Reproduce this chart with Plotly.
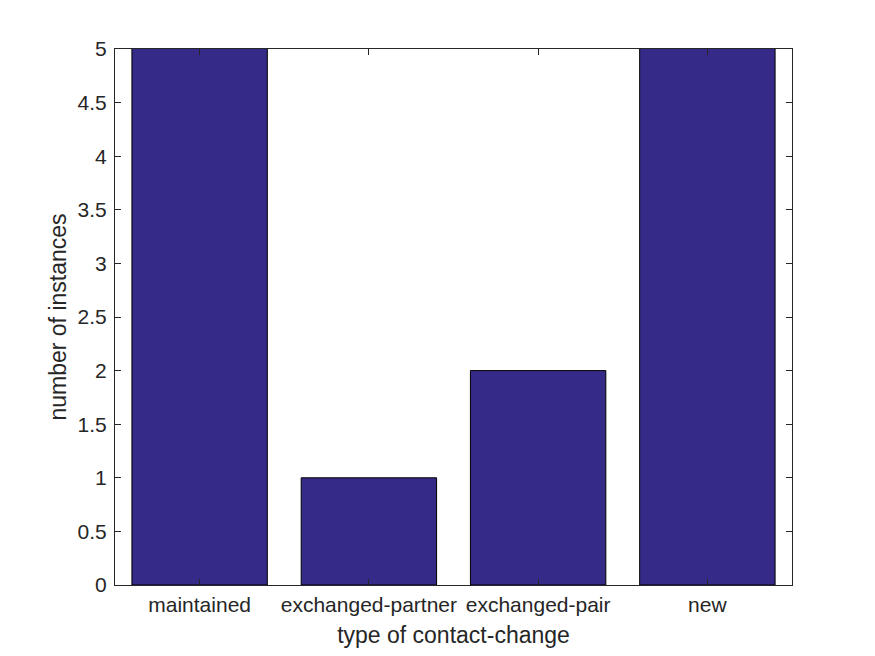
import plotly.graph_objects as go

categories = ["maintained", "exchanged-partner", "exchanged-pair", "new"]
counts = [6, 1, 2, 6]
y_ticks = [0, 0.5, 1, 1.5, 2, 2.5, 3, 3.5, 4, 4.5, 5]
y_tick_labels = ["0", "0.5", "1", "1.5", "2", "2.5", "3", "3.5", "4", "4.5", "5"]

axis_color = "#262626"
font_family = "Liberation Sans, Arial, sans-serif"

fig = go.Figure(
    go.Bar(
        x=categories,
        y=counts,
        marker=dict(color="#352A87", line=dict(color="#000000", width=1)),
        width=0.8,
    )
)

fig.update_layout(
    width=859,
    height=640,
    margin=dict(l=107, r=75, t=41, b=63),
    paper_bgcolor="white",
    plot_bgcolor="white",
    showlegend=False,
    font=dict(family=font_family, size=21, color=axis_color),
)

fig.update_xaxes(
    range=[-0.5, 3.5],
    automargin=False,
    showgrid=False,
    showline=True,
    linecolor=axis_color,
    linewidth=1,
    mirror="ticks",
    ticks="inside",
    ticklen=6,
    tickcolor=axis_color,
    tickfont=dict(size=21, color=axis_color),
    ticklabelstandoff=1,
    title=dict(text="type of contact-change", font=dict(size=23, color=axis_color), standoff=13),
    zeroline=False,
)
fig.update_yaxes(
    range=[0, 5],
    automargin=False,
    tickvals=y_ticks,
    ticktext=y_tick_labels,
    showgrid=False,
    showline=True,
    linecolor=axis_color,
    linewidth=1,
    mirror="ticks",
    ticks="inside",
    ticklen=6,
    tickcolor=axis_color,
    tickfont=dict(size=21, color=axis_color),
    ticklabelstandoff=3,
    title=dict(text="number of instances", font=dict(size=23, color=axis_color), standoff=4),
    zeroline=False,
)

fig.write_html("out.html")
